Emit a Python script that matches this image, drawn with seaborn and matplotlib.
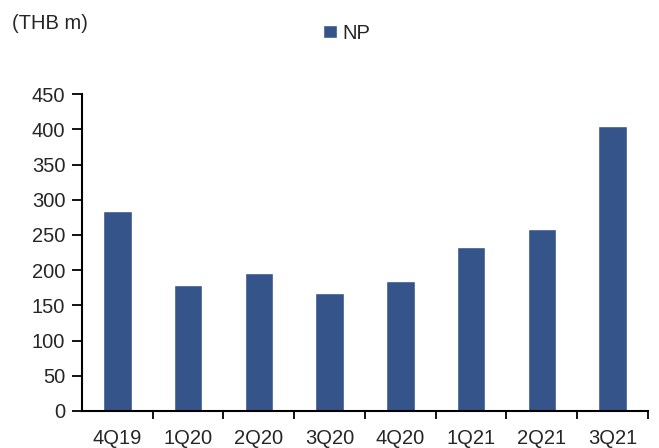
import matplotlib
matplotlib.use("Agg")
import matplotlib.pyplot as plt
import seaborn as sns
import numpy as np

quarters = ["4Q19", "1Q20", "2Q20", "3Q20", "4Q20", "1Q21", "2Q21", "3Q21"]
net_profit = [284, 179, 196, 167, 185, 233, 259, 405]
yticks = [0, 50, 100, 150, 200, 250, 300, 350, 400, 450]

sns.set_theme(style="white")
plt.rcParams["font.family"] = ["Liberation Sans", "DejaVu Sans"]

FS = 14.5

fig = plt.figure(figsize=(6.59, 4.48), dpi=100)
ax = fig.add_axes([0.1244, 0.0826, 0.8589, 0.7074])

bar_color = "#34548A"
sns.barplot(x=quarters, y=net_profit, color=bar_color, width=0.4,
            label="NP", ax=ax, saturation=1)

ax.set_xlim(-0.5, len(quarters) - 0.5)
ax.set_ylim(0, 450)
ax.set_yticks(yticks)
ax.set_yticklabels([str(v) for v in yticks], fontsize=FS)
ax.set_xlabel("")
ax.set_ylabel("")

# category labels centred, tick marks on the boundaries between categories
ax.set_xticks(range(len(quarters)))
ax.set_xticklabels(quarters, fontsize=FS)
ax.set_xticks(np.arange(0.5, len(quarters), 1.0), minor=True)
ax.tick_params(axis="x", which="major", length=0, pad=13)
ax.tick_params(axis="x", which="minor", length=6, width=1.3, color="black",
               direction="out", bottom=True)
ax.tick_params(axis="y", length=7, width=1.3, color="black", direction="out",
               left=True, pad=5)

for side in ["top", "right"]:
    ax.spines[side].set_visible(False)
for side in ["left", "bottom"]:
    ax.spines[side].set_color("black")
    ax.spines[side].set_linewidth(1.5)

ax.legend(loc="center", bbox_to_anchor=(0.5265, 0.926), bbox_transform=fig.transFigure,
          frameon=False, fontsize=FS, handlelength=0.65, handleheight=0.65,
          handletextpad=0.3, borderpad=0)

fig.text(0.018, 0.948, "(THB m)", fontsize=FS, ha="left", va="center")

fig.savefig("out.png", dpi=100)
